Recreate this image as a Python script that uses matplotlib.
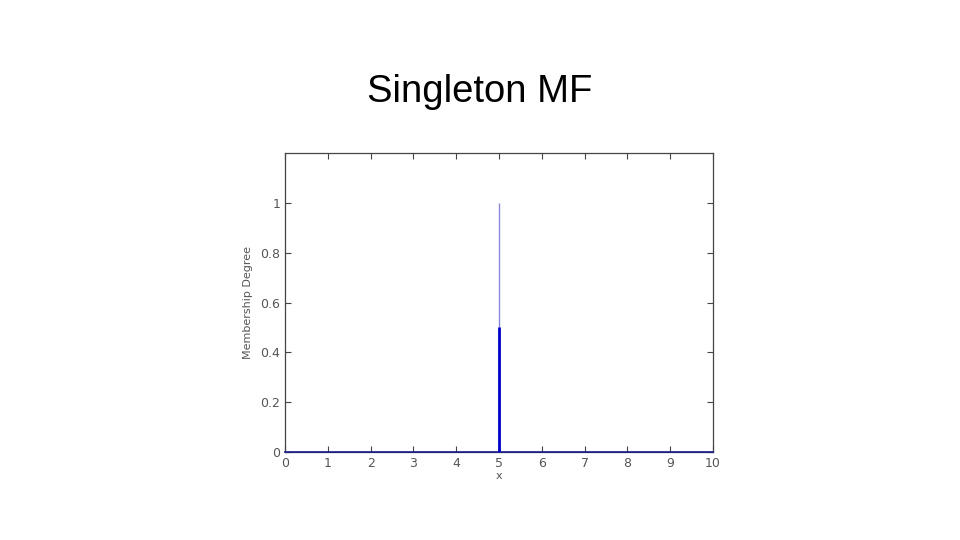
import matplotlib
matplotlib.use("Agg")
import matplotlib.pyplot as plt

# singleton membership function at x = 5
base_x = [0, 10]
base_y = [0, 0]
singleton_x = 5
singleton_height = 1.0
fired_degree = 0.5

x_ticks = [0, 1, 2, 3, 4, 5, 6, 7, 8, 9, 10]
y_ticks = [0, 0.2, 0.4, 0.6, 0.8, 1]
y_tick_labels = ["0", "0.2", "0.4", "0.6", "0.8", "1"]

fig = plt.figure(figsize=(9.6, 5.4), dpi=100)
fig.text(480 / 960, 1 - 92 / 540, "Singleton MF", ha="center", va="center",
         fontsize=27.5, family="Liberation Sans")

ax = fig.add_axes([285 / 960, 1 - 452 / 540, 428 / 960, 299 / 540])
ax.plot(base_x, base_y, color="#1a1a8c", linewidth=1.2, zorder=3, clip_on=False)
ax.vlines(singleton_x, 0, singleton_height, color="#8888dd", linewidth=1.0, zorder=2)
ax.vlines(singleton_x, 0, fired_degree, color="#0000c8", linewidth=2.0, zorder=4)

ax.set_xlim(0, 10)
ax.set_ylim(0, 1.2)
ax.set_xticks(x_ticks)
ax.set_yticks(y_ticks)
ax.set_yticklabels(y_tick_labels)
ax.tick_params(direction="in", length=4, width=0.8, colors="#444444",
               labelsize=9, top=True, right=True, labelcolor="#555555")
for spine in ax.spines.values():
    spine.set_color("#444444")
    spine.set_linewidth(0.9)

ax.set_xlabel("x", fontsize=8, color="#555555", labelpad=1)
ax.set_ylabel("Membership Degree", fontsize=8, color="#555555", labelpad=5)

fig.savefig("out.png", dpi=100)
